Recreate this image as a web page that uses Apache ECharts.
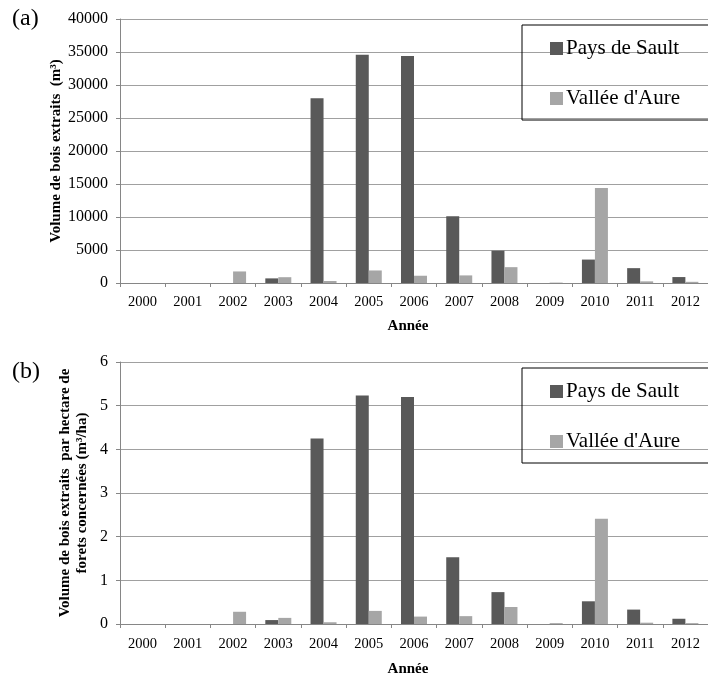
<!DOCTYPE html>
<html><head><meta charset="utf-8">
<script src="https://cdn.jsdelivr.net/npm/echarts@6/dist/echarts.min.js"></script>
<style>html,body{margin:0;padding:0;background:#fff}#c{width:708px;height:678px}</style>
</head><body><div id="c"></div>
<script>
const years = ['2000','2001','2002','2003','2004','2005','2006','2007','2008','2009','2010','2011','2012'];
const seriesNames = ['Pays de Sault', "Vallée d'Aure"];
// (a) volume extracted (m³)
const volSault = [0, 0, 0, 700, 28000, 34600, 34400, 10100, 4900, 0, 3550, 2250, 900];
const volAure  = [0, 0, 1750, 880, 300, 1900, 1100, 1150, 2400, 60, 14400, 250, 180];
// (b) volume per hectare (m³/ha)
const haSault = [0, 0, 0, 0.09, 4.25, 5.23, 5.20, 1.53, 0.73, 0, 0.52, 0.33, 0.12];
const haAure  = [0, 0, 0.28, 0.14, 0.04, 0.30, 0.17, 0.18, 0.39, 0.02, 2.41, 0.03, 0.02];
const yTicksA = {min: 0, max: 40000, interval: 5000};
const yTicksB = {min: 0, max: 6, interval: 1};

const FONT = '"Liberation Serif", "Times New Roman", serif';
const DARK = '#595959', LIGHT = '#a6a6a6';
const chart = echarts.init(document.getElementById('c'), null, {renderer: 'canvas'});

function xAxis(gi, gap, margin) {
  return {
    type: 'category', gridIndex: gi, data: years,
    axisLine: {lineStyle: {color: '#868686', width: 1}},
    axisTick: {show: true, length: 4, lineStyle: {color: '#868686'}},
    axisLabel: {color: '#000', fontFamily: FONT, fontSize: 14.5, margin: margin},
    name: 'Année', nameLocation: 'middle', nameGap: gap, nameMoveOverlap: false,
    nameTextStyle: {color: '#000', fontFamily: FONT, fontSize: 15, fontWeight: 'bold', padding: [0, 12, 0, 0]}
  };
}
function yAxis(gi, t, name, gap, lh) {
  return {
    type: 'value', gridIndex: gi, min: t.min, max: t.max, interval: t.interval,
    axisLine: {show: true, lineStyle: {color: '#868686', width: 1}},
    axisTick: {show: true, length: 4, lineStyle: {color: '#868686'}},
    splitLine: {lineStyle: {color: '#a0a0a0', width: 1}},
    axisLabel: {color: '#000', fontFamily: FONT, fontSize: 16, margin: 12, formatter: v => String(v)},
    name: name, nameLocation: 'middle', nameGap: gap, nameMoveOverlap: false,
    nameTextStyle: {color: '#000', fontFamily: FONT, fontSize: 15, fontWeight: 'bold', lineHeight: lh, align: 'center'}
  };
}
function legend(top) {
  return {
    data: seriesNames, orient: 'vertical', left: 522, top: top,
    borderColor: '#000', borderWidth: 1, borderRadius: 0,
    padding: [13, 40, 11, 28], itemGap: 29, itemWidth: 13, itemHeight: 13,
    icon: 'rect',
    textStyle: {color: '#000', fontFamily: FONT, fontSize: 21, lineHeight: 20, padding: [0, 0, 0, -2]}
  };
}
function bar(name, data, xi, color) {
  return {
    type: 'bar', name: name, data: data, xAxisIndex: xi, yAxisIndex: xi,
    barWidth: 13, barGap: '0%', itemStyle: {color: color}, animation: false
  };
}

chart.setOption({
  animation: false,
  backgroundColor: '#fff',
  grid: [
    {left: 120, top: 19, width: 596, height: 264},
    {left: 120, top: 362, width: 596, height: 264}
  ],
  xAxis: [xAxis(0, 36, 12), xAxis(1, 38, 13)],
  yAxis: [
    yAxis(0, yTicksA, 'Volume de bois extraits  (m³)', 55, 17),
    yAxis(1, yTicksB, 'Volume de bois extraits  par hectare de\nforets concernées (m³/ha)', 29, 17)
  ],
  legend: [legend(25), legend(368)],
  series: [
    bar(seriesNames[0], volSault, 0, DARK),
    bar(seriesNames[1], volAure, 0, LIGHT),
    bar(seriesNames[0], haSault, 1, DARK),
    bar(seriesNames[1], haAure, 1, LIGHT)
  ],
  graphic: [
    {type: 'text', left: 12, top: 7, style: {text: '(a)', font: '24px ' + FONT, fill: '#000'}},
    {type: 'text', left: 12, top: 360, style: {text: '(b)', font: '24px ' + FONT, fill: '#000'}}
  ]
});
</script></body></html>
